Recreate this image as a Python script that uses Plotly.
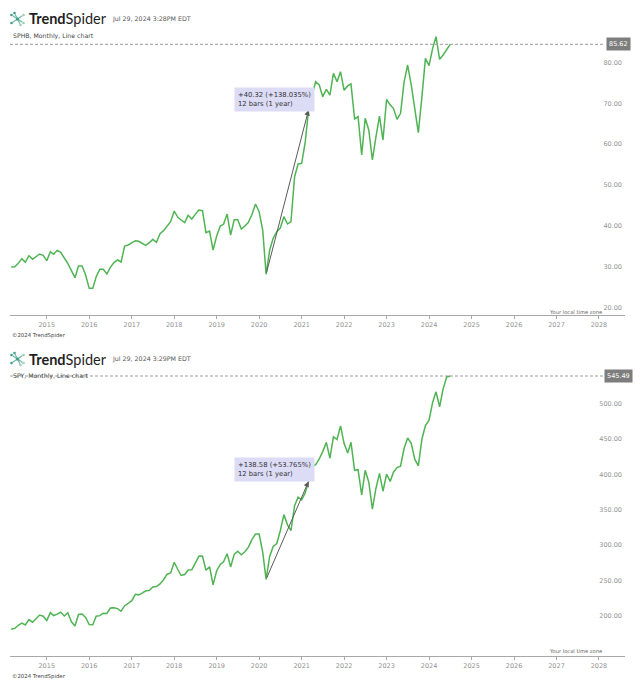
import plotly.graph_objects as go
import pandas as pd

W, H = 640, 681

# ---------------- data ----------------
months = pd.date_range("2014-03-01", "2024-07-01", freq="MS")

sphb_close = [30.99, 31.07, 31.89, 33.04, 32.14, 33.77, 32.87, 33.53, 34.18, 33.85,
              32.55, 34.75, 34.10, 35.08, 34.59, 33.20, 31.89, 30.09, 28.38, 31.24, 31.24, 29.03,
              25.76, 25.76, 28.62, 30.42, 30.42, 29.28, 30.91, 32.06, 32.71, 32.22, 36.14, 36.39,
              36.96, 37.45, 37.29, 36.80, 36.31, 36.96, 37.78, 37.04, 39.17, 39.90, 40.89, 42.11,
              44.73, 43.18, 42.52, 41.87, 43.67, 42.77, 43.91, 44.97, 44.81, 39.41, 39.82, 35.16,
              38.60, 41.05, 41.46, 43.99, 38.84, 42.60, 42.60, 40.31, 41.05, 41.95, 43.91, 46.45,
              44.57, 40.07, 29.21, 35.16, 38.02, 39.66, 40.56, 43.34, 41.54, 42.11, 53.15, 56.26,
              56.42, 61.74, 69.53, 72.77, 76.45, 75.64, 72.77, 74.57, 73.18, 78.50, 76.45, 78.91,
              74.33, 75.47, 75.88, 67.30, 67.87, 58.47, 67.46, 64.60, 57.24, 62.80, 68.03, 62.14,
              72.12, 70.73, 69.91, 67.21, 68.69, 76.45, 80.54, 75.64, 69.50, 63.94, 72.77, 82.18,
              80.38, 84.63, 87.49, 81.93, 83.00, 84.22, 85.62]

spy_close = [187.01, 188.31, 192.68, 195.72, 193.09, 200.71, 197.02, 201.66, 207.20, 205.54,
             199.45, 210.66, 206.43, 208.46, 211.14, 205.85, 210.50, 197.67, 191.63, 207.93, 208.69, 203.87,
             193.72, 193.56, 205.52, 206.33, 209.84, 209.48, 217.12, 217.38, 216.30, 212.55, 220.38, 223.53,
             227.53, 236.47, 235.74, 238.08, 241.44, 241.80, 246.77, 247.49, 251.23, 257.15, 265.01, 266.86,
             281.90, 271.65, 263.15, 264.51, 270.94, 271.28, 281.33, 290.31, 290.72, 270.63, 275.65, 249.92,
             269.93, 278.68, 282.48, 294.02, 275.27, 293.00, 297.43, 292.45, 296.77, 303.33, 314.31, 321.86,
             321.73, 296.26, 257.75, 290.48, 304.32, 308.36, 326.52, 349.31, 334.89, 326.54, 362.06, 373.88,
             370.07, 380.36, 396.33, 417.30, 420.04, 428.06, 438.51, 451.56, 429.14, 459.25, 455.56, 474.96,
             449.91, 436.63, 451.64, 412.00, 412.93, 377.25, 411.99, 395.18, 357.18, 386.21, 407.68, 382.43,
             406.48, 396.26, 409.39, 415.93, 417.85, 443.28, 457.79, 450.35, 427.48, 418.20, 456.40, 475.31,
             482.88, 508.08, 523.07, 501.98, 527.37, 544.22, 545.49]

sphb_ticks = [20, 30, 40, 50, 60, 70, 80]
spy_ticks = [200, 250, 300, 350, 400, 450, 500]

charts = [
    dict(symbol="SPHB", series=sphb_close, ticks=sphb_ticks, time="3:28PM",
         start="2020-03-01", end="2021-03-01",
         measure="+40.32 (+138.035%)<br>12 bars (1 year)"),
    dict(symbol="SPY", series=spy_close, ticks=spy_ticks, time="3:29PM",
         start="2020-03-01", end="2021-03-01",
         measure="+138.58 (+53.765%)<br>12 bars (1 year)"),
]

# ---------------- layout geometry (pixels) ----------------
def px(x):
    return x / W


def py(y):
    return 1 - y / H


panels = [
    dict(top=30, bottom=315, yrange=[19.22, 89.13], header=19, sub=36,
         tz=312, copy=335, box=(234, 87)),
    dict(top=370, bottom=656, yrange=[149.2, 554.0], header=359, sub=376,
         tz=651, copy=676, box=(234, 457)),
]

LINE_GREEN = "#50b454"
TICK_GRAY = "#929292"
FONT = "DejaVu Sans"

fig = go.Figure()
annotations = []
shapes = []
layout_axes = {}

for i, (c, p) in enumerate(zip(charts, panels)):
    n = "" if i == 0 else str(i + 1)
    xa, ya = "x" + n, "y" + n
    fig.add_trace(go.Scatter(x=months, y=c["series"], mode="lines",
                             line=dict(color=LINE_GREEN, width=1.5),
                             xaxis=xa, yaxis=ya, hoverinfo="skip", showlegend=False))

    layout_axes["xaxis" + n] = dict(
        domain=[px(10), px(625)], anchor=ya, type="date",
        range=["2014-02-19", "2028-08-12"],
        tick0="2015-01-01", dtick="M12", tickformat="%Y",
        showgrid=False, zeroline=False, showline=True, linecolor="#a8a8a8", linewidth=1,
        ticks="outside", ticklen=3, tickcolor="#a8a8a8",
        tickfont=dict(family=FONT, size=6.5, color=TICK_GRAY), fixedrange=True)
    layout_axes["yaxis" + n] = dict(
        domain=[py(p["bottom"]), py(p["top"])], anchor=xa, side="right",
        range=p["yrange"], tickvals=c["ticks"], tickformat=".2f",
        ticklabelposition="inside top", ticks="", showgrid=False, zeroline=False,
        showline=False, tickfont=dict(family=FONT, size=6.5, color=TICK_GRAY),
        fixedrange=True)

    last = c["series"][-1]
    # dashed last-price line
    shapes.append(dict(type="line", xref="paper", yref=ya, x0=px(10), x1=px(604),
                       y0=last, y1=last, line=dict(color="#9a9a9a", width=1, dash="3px,2px")))
    # last price badge
    annotations.append(dict(xref="paper", yref=ya, x=px(618), y=last, text=f"{last:.2f}",
                            showarrow=False, bgcolor="#7d7d7d", borderpad=2,
                            font=dict(family=FONT, size=6.5, color="white"),
                            xanchor="center", yanchor="middle"))
    # measurement arrow
    s_idx = list(months).index(pd.Timestamp(c["start"]))
    e_idx = list(months).index(pd.Timestamp(c["end"]))
    annotations.append(dict(xref=xa, yref=ya, axref=xa, ayref=ya,
                            x=months[e_idx], y=c["series"][e_idx],
                            ax=months[s_idx], ay=c["series"][s_idx],
                            text="", showarrow=True, arrowhead=2, arrowsize=1.1,
                            arrowwidth=1, arrowcolor="#5a5a5a"))
    annotations.append(dict(xref="paper", yref="paper", x=px(p["box"][0]), y=py(p["box"][1]),
                            xanchor="left", yanchor="top", align="left", showarrow=False,
                            text=c["measure"], bgcolor="#dcdcf7", borderpad=3,
                            font=dict(family=FONT, size=6.8, color="#333")))
    # header
    annotations.append(dict(xref="paper", yref="paper", x=px(27), y=py(p["header"]),
                            xanchor="left", yanchor="middle", showarrow=False,
                            text="<b>Trend</b>Spider",
                            font=dict(family="Lato", size=14.5, color="#1f1f1f")))
    annotations.append(dict(xref="paper", yref="paper", x=px(110), y=py(p["header"]),
                            xanchor="left", yanchor="middle", showarrow=False,
                            text=f"Jul 29, 2024 {c['time']} EDT",
                            font=dict(family=FONT, size=6.3, color="#555")))
    annotations.append(dict(xref="paper", yref="paper", x=px(11), y=py(p["sub"]),
                            xanchor="left", yanchor="middle", showarrow=False,
                            text=f"{c['symbol']}, Monthly, Line chart",
                            font=dict(family=FONT, size=6.2, color="#444")))
    annotations.append(dict(xref="paper", yref="paper", x=px(604), y=py(p["tz"]),
                            xanchor="right", yanchor="middle", showarrow=False,
                            text="Your local time zone",
                            font=dict(family=FONT, size=5.2, color="#666")))
    annotations.append(dict(xref="paper", yref="paper", x=px(10), y=py(p["copy"]),
                            xanchor="left", yanchor="middle", showarrow=False,
                            text="©2024 TrendSpider",
                            font=dict(family=FONT, size=5.4, color="#444")))
    # logo (small spider glyph)
    cx, cy = 17.5, p["header"]
    legs = [(-6, -4), (6, -4), (-6, 4), (6, 4), (-3, -6), (3, 6)]
    for dx, dy in legs:
        shapes.append(dict(type="line", xref="paper", yref="paper",
                           x0=px(cx), y0=py(cy), x1=px(cx + dx * 0.8), y1=py(cy + dy * 0.8),
                           line=dict(color="#6fb9a4", width=1.2)))
    for j, (dx, dy) in enumerate(legs):
        r = 1.3
        col = "#3f9d86" if j % 2 == 0 else "#9bd1b4"
        shapes.append(dict(type="circle", xref="paper", yref="paper",
                           x0=px(cx + dx - r), x1=px(cx + dx + r),
                           y0=py(cy + dy + r), y1=py(cy + dy - r),
                           fillcolor=col, line=dict(width=0)))
    shapes.append(dict(type="circle", xref="paper", yref="paper",
                       x0=px(cx - 1.6), x1=px(cx + 1.6), y0=py(cy + 1.6), y1=py(cy - 1.6),
                       fillcolor="#3f9d86", line=dict(width=0)))

fig.update_layout(
    width=W, height=H, margin=dict(l=0, r=0, t=0, b=0),
    paper_bgcolor="white", plot_bgcolor="white",
    showlegend=False, hovermode=False,
    annotations=annotations, shapes=shapes,
    **layout_axes,
)

fig.write_html("out.html", config={"displayModeBar": False})
